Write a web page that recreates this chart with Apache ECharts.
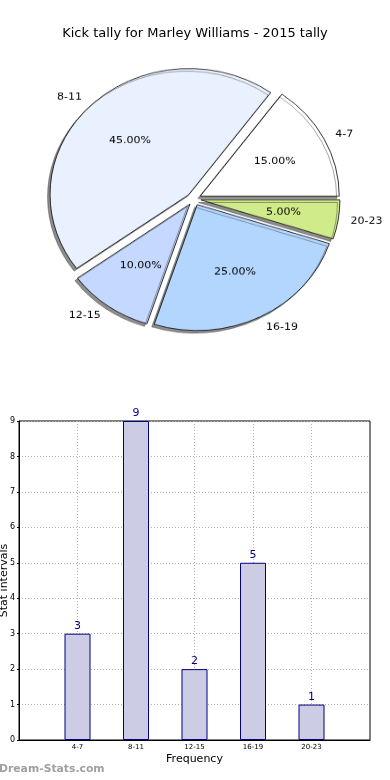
<!DOCTYPE html>
<html>
<head>
<meta charset="utf-8">
<script src="https://cdn.jsdelivr.net/npm/echarts@6/dist/echarts.min.js"></script>
<style>
html,body{margin:0;padding:0;background:#fff;}
#bar{position:absolute;left:0;top:0;width:390px;height:780px;}
#pie{position:absolute;left:0;top:0;width:390px;height:440px;transform:scaleY(0.906);transform-origin:0 0;}
</style>
</head>
<body>
<div id="bar"></div>
<div id="pie"></div>
<script>
// ---- data ----
const titleText = 'Kick tally for Marley Williams - 2015 tally';
const categories = ['4-7', '8-11', '12-15', '16-19', '20-23'];
const tallies = [3, 9, 2, 5, 1];
const pieColors = ['#ffffff', '#eaf1fe', '#c5d8ff', '#b3d6ff', '#d0eb8a'];
const yTicks = [0, 1, 2, 3, 4, 5, 6, 7, 8, 9];
const yAxisName = 'Stat intervals';
const xAxisName = 'Frequency';
const watermark = 'Dream-Stats.com';

const FONT = 'DejaVu Sans';

// ---- pie ----
const R = 139;
const pieData = categories.map((c, i) => ({
  name: c, value: tallies[i], selected: true,
  itemStyle: { color: pieColors[i] }
}));
const pieLabelData = categories.map((c, i) => ({ name: c, value: tallies[i], selected: true }));

const pie = echarts.init(document.getElementById('pie'), null, { renderer: 'canvas' });
pie.setOption({
  animation: false,
  series: [
    {
      type: 'pie',
      center: [194, 219.6],
      radius: [0, R],
      startAngle: 0,
      clockwise: false,
      selectedMode: 'multiple',
      selectedOffset: 7,
      avoidLabelOverlap: false,
      silent: true,
      data: pieData,
      itemStyle: {
        borderColor: '#000', borderWidth: 0.8,
        shadowColor: 'rgba(50,50,50,0.55)', shadowBlur: 0,
        shadowOffsetX: -2.5, shadowOffsetY: 2.8
      },
      label: {
        show: true, position: 'outside', color: '#000',
        fontFamily: FONT, fontSize: 11, distanceToLabelLine: 0,
        formatter: p => p.name
      },
      labelLine: { show: false, length: 12.5, length2: 0 },
      emphasis: { disabled: true }
    },
    {
      type: 'pie',
      center: [194, 219.6],
      radius: [0, 161],
      startAngle: 0,
      clockwise: false,
      selectedMode: 'multiple',
      selectedOffset: 7,
      avoidLabelOverlap: false,
      silent: true,
      data: pieLabelData,
      itemStyle: { color: 'rgba(0,0,0,0)', borderWidth: 0 },
      label: {
        show: true, position: 'inside', color: '#000',
        fontFamily: FONT, fontSize: 11,
        formatter: p => p.percent.toFixed(2) + '%'
      },
      labelLine: { show: false },
      emphasis: { disabled: true }
    }
  ]
});

// ---- bar ----
const xCats = [''].concat(categories, ['']);
const barData = [null].concat(tallies, [null]);

const bar = echarts.init(document.getElementById('bar'), null, { renderer: 'canvas' });
bar.setOption({
  animation: false,
  title: {
    text: titleText, left: 'center', top: 22,
    textStyle: { fontFamily: FONT, fontSize: 13, fontWeight: 'normal', color: '#000' }
  },
  graphic: [{
    type: 'text', left: -1, top: 764,
    style: { text: watermark, fontFamily: FONT, fontSize: 10.8, fontWeight: 'bold', fill: '#a0a0a0' }
  }],
  grid: {
    left: 19, right: 20, top: 421, bottom: 40,
    show: true, borderColor: '#000', borderWidth: 1,
    containLabel: false, outerBoundsMode: 'none'
  },
  xAxis: {
    type: 'category', data: xCats, boundaryGap: false,
    name: xAxisName, nameLocation: 'middle', nameGap: 14,
    nameTextStyle: { fontFamily: FONT, fontSize: 11, color: '#000' },
    axisLine: { lineStyle: { color: '#000', width: 1 } },
    axisTick: { show: true, inside: true, length: 3, interval: (i) => i > 0 && i < 6, lineStyle: { color: '#000' } },
    axisLabel: { fontFamily: FONT, fontSize: 7, color: '#000', margin: 4, interval: 0 },
    splitLine: { show: true, interval: (i) => i > 0 && i < 6, lineStyle: { color: '#b0b0b0', type: [1, 2], width: 1 } }
  },
  yAxis: {
    type: 'value', min: 0, max: 9, interval: 1,
    name: yAxisName, nameLocation: 'middle', nameGap: 9.5, nameRotate: 90,
    nameMoveOverlap: false,
    nameTextStyle: { fontFamily: FONT, fontSize: 11, color: '#000' },
    axisLine: { show: true, lineStyle: { color: '#000', width: 1 } },
    axisTick: { show: true, length: 2, lineStyle: { color: '#000' } },
    axisLabel: { fontFamily: FONT, fontSize: 8, color: '#000', margin: 4, formatter: v => yTicks.includes(v) ? String(v) : '' },
    splitLine: { show: true, lineStyle: { color: '#b0b0b0', type: [1, 2], width: 1 } }
  },
  series: [{
    type: 'bar', data: barData, barWidth: 26, z: 1,
    itemStyle: { color: '#ccccE4', borderColor: '#000080', borderWidth: 1 },
    label: { show: true, position: 'top', distance: 2, color: '#000080', fontFamily: FONT, fontSize: 11 },
    silent: true
  }]
});
</script>
</body>
</html>
